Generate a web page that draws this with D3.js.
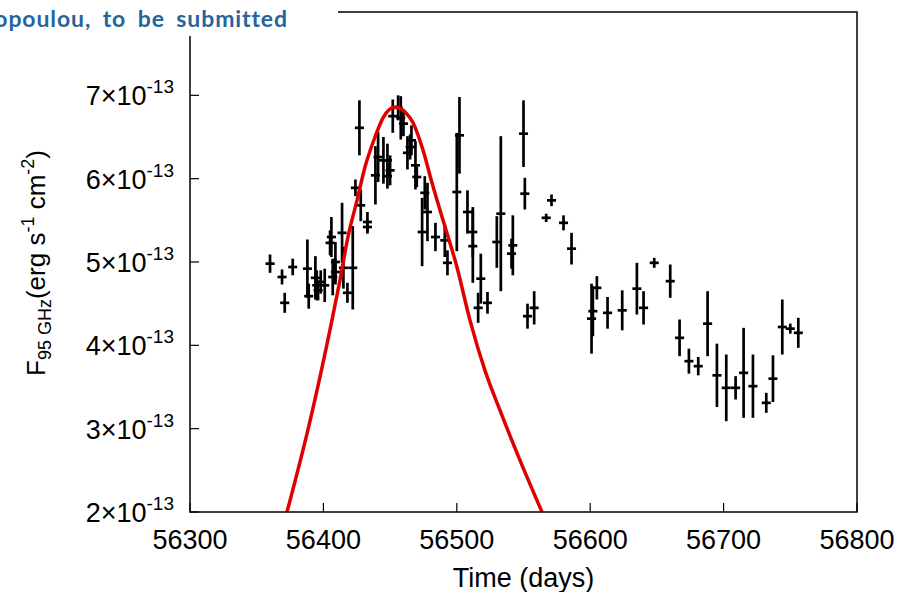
<!DOCTYPE html>
<html>
<head>
<meta charset="utf-8">
<script src="https://cdn.jsdelivr.net/npm/d3@7"></script>
<style>
  body { margin: 0; background: #fff; }
  svg { display: block; font-family: "Liberation Sans", Arial, sans-serif; }
</style>
</head>
<body>
<div id="chart"></div>
<script>
// Observations: MJD, flux (units of 1e-13 erg s^-1 cm^-2), flux error
const days = [56360, 56369, 56371, 56377, 56388, 56389, 56394, 56395, 56396, 56398,
  56401, 56405, 56406, 56407, 56409, 56409, 56414, 56415, 56418, 56422,
  56424, 56427, 56428, 56433, 56433, 56439, 56441, 56445, 56448, 56448,
  56450, 56452, 56456, 56458, 56460, 56463, 56465, 56466, 56469, 56470,
  56474, 56476, 56478, 56484, 56491, 56493, 56500, 56502, 56508, 56512,
  56512, 56516, 56518, 56523, 56530, 56533, 56541, 56542, 56550, 56551,
  56553, 56558, 56567, 56571, 56580, 56586, 56601, 56602, 56605, 56613,
  56624, 56635, 56640, 56648, 56660, 56667, 56674, 56681, 56688, 56695,
  56702, 56709, 56715, 56722, 56732, 56737, 56744, 56750, 56756];
const flux = [4.98, 4.82, 4.51, 4.94, 4.92, 4.59, 4.81, 4.72, 4.66, 4.76,
  4.72, 5.23, 5.30, 4.82, 5.00, 4.88, 5.35, 4.93, 4.63, 4.93,
  5.89, 6.61, 5.68, 5.48, 5.42, 6.04, 6.26, 6.22, 6.03, 6.22,
  6.10, 6.75, 6.85, 6.73, 6.66, 6.31, 6.38, 6.46, 6.16, 6.02,
  5.36, 5.83, 5.60, 5.30, 5.26, 4.99, 5.84, 6.52, 5.60, 5.36,
  5.19, 4.45, 4.80, 4.51, 5.24, 5.58, 5.10, 5.20, 6.54, 5.82,
  4.35, 4.45, 5.53, 5.74, 5.47, 5.16, 4.32, 4.41, 4.69, 4.39,
  4.42, 4.68, 4.45, 4.99, 4.77, 4.09, 3.81, 3.75, 4.26, 3.64,
  3.49, 3.49, 3.67, 3.51, 3.31, 3.60, 4.22, 4.20, 4.15];
const fluxErr = [0.11, 0.09, 0.12, 0.10, 0.35, 0.15, 0.26, 0.18, 0.12, 0.14,
  0.20, 0.15, 0.24, 0.22, 0.24, 0.15, 0.36, 0.25, 0.12, 0.50,
  0.10, 0.33, 0.19, 0.12, 0.08, 0.35, 0.30, 0.28, 0.15, 0.20,
  0.18, 0.20, 0.15, 0.26, 0.15, 0.20, 0.15, 0.18, 0.29, 0.12,
  0.41, 0.20, 0.35, 0.17, 0.20, 0.15, 0.71, 0.46, 0.26, 0.30,
  0.44, 0.18, 0.30, 0.13, 0.31, 0.93, 0.18, 0.36, 0.40, 0.19,
  0.15, 0.20, 0.05, 0.07, 0.09, 0.19, 0.42, 0.30, 0.14, 0.19,
  0.24, 0.31, 0.20, 0.06, 0.20, 0.22, 0.15, 0.11, 0.39, 0.38,
  0.40, 0.14, 0.54, 0.38, 0.12, 0.28, 0.33, 0.06, 0.18];
const dayErr = 3.4;

// Flare model curve
const modelDays = [56372.7, 56389.2, 56406.4, 56412.4, 56418.4, 56425.2, 56431.2, 56438.7,
  56444.7, 56453.7, 56461.2, 56467.2, 56474.7, 56481.4, 56489.7, 56500.1,
  56509.9, 56521.1, 56532.4, 56547.4, 56563.9];
const modelFlux = [2.00, 3.04, 4.30, 4.78, 5.30, 5.74, 6.14, 6.50,
  6.73, 6.86, 6.80, 6.67, 6.34, 5.95, 5.50, 4.94,
  4.30, 3.70, 3.22, 2.62, 2.00];

const xTicks = [56300, 56400, 56500, 56600, 56700, 56800];
const yTicks = [2, 3, 4, 5, 6, 7];

const width = 900, height = 592;
const margin = {top: 12, right: 43, bottom: 80, left: 190};

const x = d3.scaleLinear().domain([56300, 56800]).range([margin.left, width - margin.right]);
const y = d3.scaleLinear().domain([2, 8]).range([height - margin.bottom, margin.top]);

const svg = d3.select("#chart").append("svg")
    .attr("width", width)
    .attr("height", height);

// error bars
const pts = days.map((d, i) => ({d, f: flux[i], e: fluxErr[i]}));
const g = svg.append("g").attr("stroke", "#000").attr("stroke-width", 2.7);
g.selectAll("line.v").data(pts).join("line")
    .attr("class", "v")
    .attr("x1", p => x(p.d)).attr("x2", p => x(p.d))
    .attr("y1", p => y(p.f - p.e)).attr("y2", p => y(p.f + p.e));
g.selectAll("line.h").data(pts).join("line")
    .attr("class", "h")
    .attr("x1", p => x(p.d - dayErr)).attr("x2", p => x(p.d + dayErr))
    .attr("y1", p => y(p.f)).attr("y2", p => y(p.f));

// model
const line = d3.line().x(d => x(d)).y((d, i) => y(modelFlux[i])).curve(d3.curveMonotoneX);
svg.append("path")
    .attr("d", line(modelDays))
    .attr("fill", "none")
    .attr("stroke", "#e00000")
    .attr("stroke-width", 3.5);

// frame
svg.append("rect")
    .attr("x", margin.left).attr("y", margin.top)
    .attr("width", width - margin.left - margin.right)
    .attr("height", height - margin.top - margin.bottom)
    .attr("fill", "none").attr("stroke", "#000").attr("stroke-width", 1.5);

// ticks (inward)
svg.append("g").selectAll("line").data(xTicks).join("line")
    .attr("x1", d => x(d)).attr("x2", d => x(d))
    .attr("y1", y(2)).attr("y2", y(2) - 9)
    .attr("stroke", "#000").attr("stroke-width", 1.2);
svg.append("g").selectAll("line").data(yTicks).join("line")
    .attr("x1", x(56300)).attr("x2", x(56300) + 9)
    .attr("y1", d => y(d)).attr("y2", d => y(d))
    .attr("stroke", "#000").attr("stroke-width", 1.2);

// tick labels
svg.append("g").selectAll("text").data(xTicks).join("text")
    .attr("x", d => x(d)).attr("y", 549)
    .attr("text-anchor", "middle")
    .attr("font-size", 27)
    .text(d => d);

const yl = svg.append("g").selectAll("text").data(yTicks).join("text")
    .attr("x", 174).attr("y", d => y(d) + 10)
    .attr("text-anchor", "end")
    .attr("font-size", 27);
yl.append("tspan").text(d => d + "\u00d710");
yl.append("tspan").attr("dy", -12).attr("font-size", 19).text("-13");

// axis titles
svg.append("text")
    .attr("x", x(56550)).attr("y", 587)
    .attr("text-anchor", "middle")
    .attr("font-size", 27)
    .text("Time (days)");

const yt = svg.append("text")
    .attr("transform", "translate(45,263) rotate(-90)")
    .attr("text-anchor", "middle")
    .attr("font-size", 26);
yt.append("tspan").text("F");
yt.append("tspan").attr("dy", 6).attr("font-size", 18).text("95 GHz");
yt.append("tspan").attr("dy", -6).text("(erg s");
yt.append("tspan").attr("dy", -11).attr("font-size", 18).text("-1");
yt.append("tspan").attr("dy", 11).text(" cm");
yt.append("tspan").attr("dy", -11).attr("font-size", 18).text("-2");
yt.append("tspan").attr("dy", 11).text(")");

// header note over the top-left corner
svg.append("rect").attr("x", 0).attr("y", 0).attr("width", 338).attr("height", 36).attr("fill", "#fff");
svg.append("text")
    .attr("x", 288).attr("y", 27)
    .attr("text-anchor", "end")
    .attr("font-family", "Lato, sans-serif")
    .attr("font-weight", 700)
    .attr("font-size", 23)
    .attr("letter-spacing", 0.9)
    .attr("word-spacing", 5)
    .attr("fill", "#26649a")
    .text("opoulou, to be submitted");
</script>
</body>
</html>
